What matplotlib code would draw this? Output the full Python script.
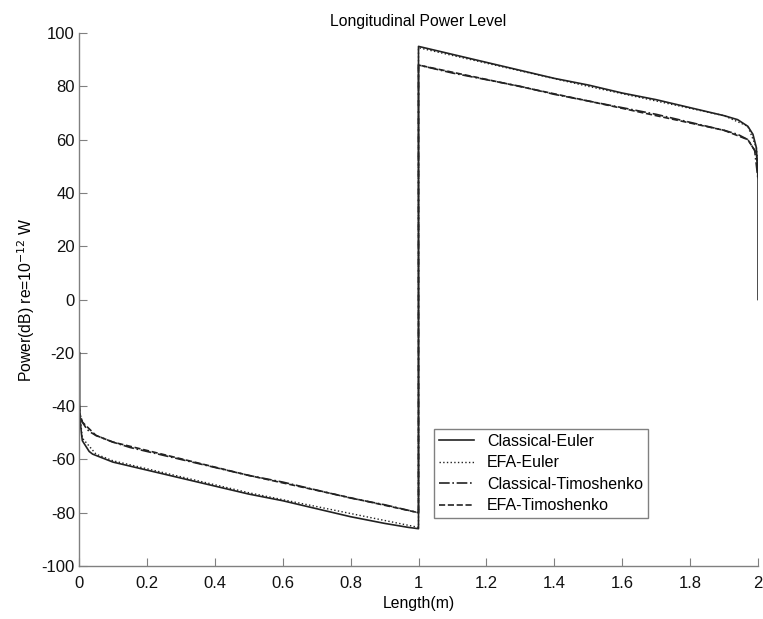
import matplotlib
matplotlib.use("Agg")
import matplotlib.pyplot as plt

plt.rcParams['font.family'] = ['Liberation Sans', 'DejaVu Sans']
plt.rcParams['axes.unicode_minus'] = False

# Classical-Euler (solid)
ce_x = [0.002, 0.002, 0.004, 0.007, 0.01, 0.015, 0.02, 0.03, 0.04, 0.05, 0.07, 0.1, 0.15, 0.2, 0.3, 0.4,
        0.5, 0.6, 0.7, 0.8, 0.9, 0.97, 1.0, 1.0, 1.0,
        1.0, 1.1, 1.2, 1.3, 1.4, 1.5, 1.6, 1.7, 1.8, 1.85, 1.9, 1.94, 1.97, 1.985, 1.995, 2.0, 2.0]
ce_y = [-20, -40, -46, -50, -53, -54, -55, -57, -58, -58.5, -59.5, -61, -62.5, -64, -67, -70,
        -73, -75.5, -78.5, -81.5, -84, -85.5, -86, 4, 95,
        95, 92, 89, 86, 83, 80.5, 77.5, 75, 72, 70.5, 69, 67.5, 65, 62, 57, 45, 0]

# EFA-Euler (dotted)
ee_x = [0.0, 0.01, 0.05, 0.1, 0.5, 1.0, 1.0, 1.5, 1.9, 1.97, 1.995, 2.0]
ee_y = [-40, -52, -58, -60.5, -72.5, -85.5, 94.5, 80, 69, 65, 57, 50]

# Classical-Timoshenko (dash-dot)
ct_x = [0.0, 0.003, 0.01, 0.02, 0.03, 0.05, 0.07, 0.1, 0.15, 0.2, 0.3, 0.4, 0.5, 0.6, 0.7, 0.8,
        0.9, 1.0, 1.0, 1.0, 1.1, 1.2, 1.3, 1.4, 1.5, 1.6, 1.7, 1.8, 1.85, 1.9, 1.94, 1.97, 1.99, 2.0]
ct_y = [-38, -43, -46, -48, -49.5, -51, -52, -53.5, -55.5, -57, -60, -63, -66, -68.5, -71.5, -74.5,
        -77, -80, 4, 88, 85, 82.5, 80, 77, 74.5, 72, 69.5, 66.5, 65, 63.5, 62, 60, 56, 45]

# EFA-Timoshenko (dashed)
et_x = [0.0, 0.01, 0.05, 0.1, 0.5, 1.0, 1.0, 1.5, 1.9, 1.97, 1.995, 2.0]
et_y = [-42, -46, -51, -53.5, -66, -80, 88, 74.5, 63.5, 60, 55, 48]

labels = ['Classical-Euler', 'EFA-Euler', 'Classical-Timoshenko', 'EFA-Timoshenko']
x_ticks = [0, 0.2, 0.4, 0.6, 0.8, 1, 1.2, 1.4, 1.6, 1.8, 2]
x_ticklabels = ['0', '0.2', '0.4', '0.6', '0.8', '1', '1.2', '1.4', '1.6', '1.8', '2']
y_ticks = [-100, -80, -60, -40, -20, 0, 20, 40, 60, 80, 100]

fig = plt.figure(figsize=(7.63, 6.19), dpi=100)
ax = fig.add_axes([0.1035, 0.0856, 0.890, 0.861])

lc = '#222222'
ax.plot(ce_x, ce_y, '-', color=lc, lw=1.2, label=labels[0])
ax.plot(ee_x, ee_y, ':', color=lc, lw=1.0, label=labels[1])
ax.plot(ct_x, ct_y, '-.', color=lc, lw=1.2, label=labels[2])
ax.plot(et_x, et_y, '--', color=lc, lw=1.2, label=labels[3])

ax.set_xlim(0, 2)
ax.set_ylim(-100, 100)
ax.set_xticks(x_ticks)
ax.set_xticklabels(x_ticklabels)
ax.set_yticks(y_ticks)
for s in ['top', 'right']:
    ax.spines[s].set_visible(False)
for s in ['left', 'bottom']:
    ax.spines[s].set_color('#808080')
    ax.spines[s].set_linewidth(1.0)
ax.tick_params(direction='in', length=6, color='#808080', labelsize=12, labelcolor='#111111', pad=3)
ax.tick_params(axis='x', pad=7)

ax.set_title('Longitudinal Power Level', fontsize=11.3, pad=5)
ax.set_xlabel('Length(m)', fontsize=11.3, labelpad=4)
ax.set_ylabel('Power(dB) re=10$^{-12}$ W', fontsize=11.3, labelpad=3)

leg = ax.legend(loc='lower left', bbox_to_anchor=(0.523, 0.09), fontsize=11.5, frameon=True,
                fancybox=False, framealpha=1, edgecolor='#808080', borderpad=0.3,
                labelspacing=0.4, handlelength=2.2, handletextpad=0.8, borderaxespad=0)
leg.get_frame().set_linewidth(1.0)

fig.savefig('out.png', dpi=100)
